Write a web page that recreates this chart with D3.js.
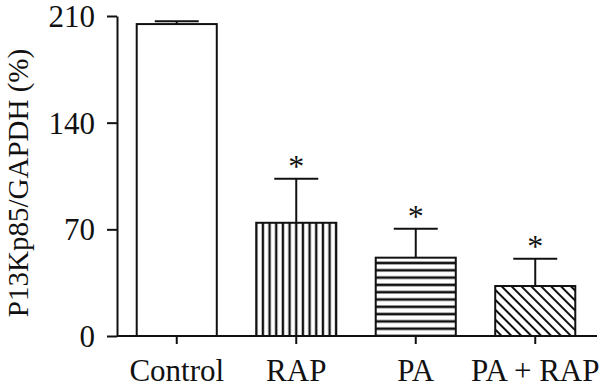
<!DOCTYPE html>
<html><head><meta charset="utf-8">
<script src="https://cdn.jsdelivr.net/npm/d3@7"></script>
<style>body{margin:0;background:#fff}svg{display:block}text{font-family:"Liberation Serif","Times New Roman",serif;fill:#111}</style>
</head><body><svg id="c" width="600" height="392"></svg>
<script>
const categories = ["Control", "RAP", "PA", "PA + RAP"];
const values = [204.7, 74.3, 51.4, 32.8];
const errors = [1.8, 28.9, 19.0, 17.9];
const significant = [false, true, true, true];
const patterns = ["none", "vertical", "horizontal", "diagonal"];
const yTicks = [0, 70, 140, 210];
const yLabel = "P13Kp85/GAPDH (%)";

const svg = d3.select("#c");
const x = d3.scaleBand().domain(categories).range([117, 595]).paddingInner(0.33).paddingOuter(0.165);
const y = d3.scaleLinear().domain([0, 210]).range([336, 16]);
const ink = "#111";
const defs = svg.append("defs");

categories.forEach((c, i) => {
  const p = patterns[i];
  if (p === "none") return;
  const bx = x(c);
  let pat;
  if (p === "vertical") {
    pat = defs.append("pattern").attr("id", "pat" + i).attr("patternUnits", "userSpaceOnUse")
      .attr("x", bx).attr("y", 0).attr("width", 6.67).attr("height", 10);
    pat.append("rect").attr("x", -1.2).attr("y", 0).attr("width", 2.4).attr("height", 10).attr("fill", ink);
    pat.append("rect").attr("x", 6.67 - 1.2).attr("y", 0).attr("width", 2.4).attr("height", 10).attr("fill", ink);
  } else if (p === "horizontal") {
    pat = defs.append("pattern").attr("id", "pat" + i).attr("patternUnits", "userSpaceOnUse")
      .attr("x", 0).attr("y", y(0)).attr("width", 10).attr("height", 7.3);
    pat.append("rect").attr("x", 0).attr("y", -1.3).attr("width", 10).attr("height", 2.6).attr("fill", ink);
    pat.append("rect").attr("x", 0).attr("y", 7.3 - 1.3).attr("width", 10).attr("height", 2.6).attr("fill", ink);
  } else {
    pat = defs.append("pattern").attr("id", "pat" + i).attr("patternUnits", "userSpaceOnUse")
      .attr("x", bx).attr("y", 0).attr("width", 7).attr("height", 7)
      .attr("patternTransform", "rotate(-45)");
    pat.append("rect").attr("x", -1).attr("y", 0).attr("width", 2).attr("height", 7).attr("fill", ink);
    pat.append("rect").attr("x", 6).attr("y", 0).attr("width", 2).attr("height", 7).attr("fill", ink);
  }
});

// bars
const g = svg.append("g");
categories.forEach((c, i) => {
  const v = values[i];
  g.append("rect").attr("x", x(c)).attr("y", y(v)).attr("width", x.bandwidth()).attr("height", y(0) - y(v))
    .attr("fill", patterns[i] === "none" ? "#fff" : `url(#pat${i})`)
    .attr("stroke", ink).attr("stroke-width", 2);
  const cx = x(c) + x.bandwidth() / 2;
  const top = y(v + errors[i]);
  g.append("line").attr("x1", cx).attr("x2", cx).attr("y1", y(v)).attr("y2", top).attr("stroke", ink).attr("stroke-width", 2);
  g.append("line").attr("x1", cx - 22).attr("x2", cx + 22).attr("y1", top).attr("y2", top).attr("stroke", ink).attr("stroke-width", 2);
  if (significant[i]) {
    g.append("text").attr("x", cx).attr("y", top - 2).attr("text-anchor", "middle").attr("font-size", 32).text("*");
  }
});

// y axis
const ya = svg.append("g").attr("transform", "translate(117,0)")
  .call(d3.axisLeft(y).tickValues(yTicks).tickSize(10).tickSizeOuter(0).tickPadding(12));
ya.select(".domain").attr("stroke", ink).attr("stroke-width", 2);
ya.selectAll(".tick line").attr("stroke", ink).attr("stroke-width", 2);
ya.selectAll(".tick text").attr("font-size", 31).attr("font-family", "Liberation Serif, serif").attr("fill", ink).attr("dy", "0.34em");

// x axis
const xa = svg.append("g").attr("transform", "translate(0,336)")
  .call(d3.axisBottom(x).tickSize(8).tickSizeOuter(0).tickPadding(15));
xa.select(".domain").attr("d", "M117,0H597").attr("stroke", ink).attr("stroke-width", 2);
xa.selectAll(".tick line").attr("stroke", ink).attr("stroke-width", 2);
xa.selectAll(".tick text").attr("font-size", 31).attr("font-family", "Liberation Serif, serif").attr("fill", ink);

svg.append("text").attr("transform", "translate(28,183) rotate(-90)").attr("text-anchor", "middle")
  .attr("font-size", 29).text(yLabel);
</script></body></html>
